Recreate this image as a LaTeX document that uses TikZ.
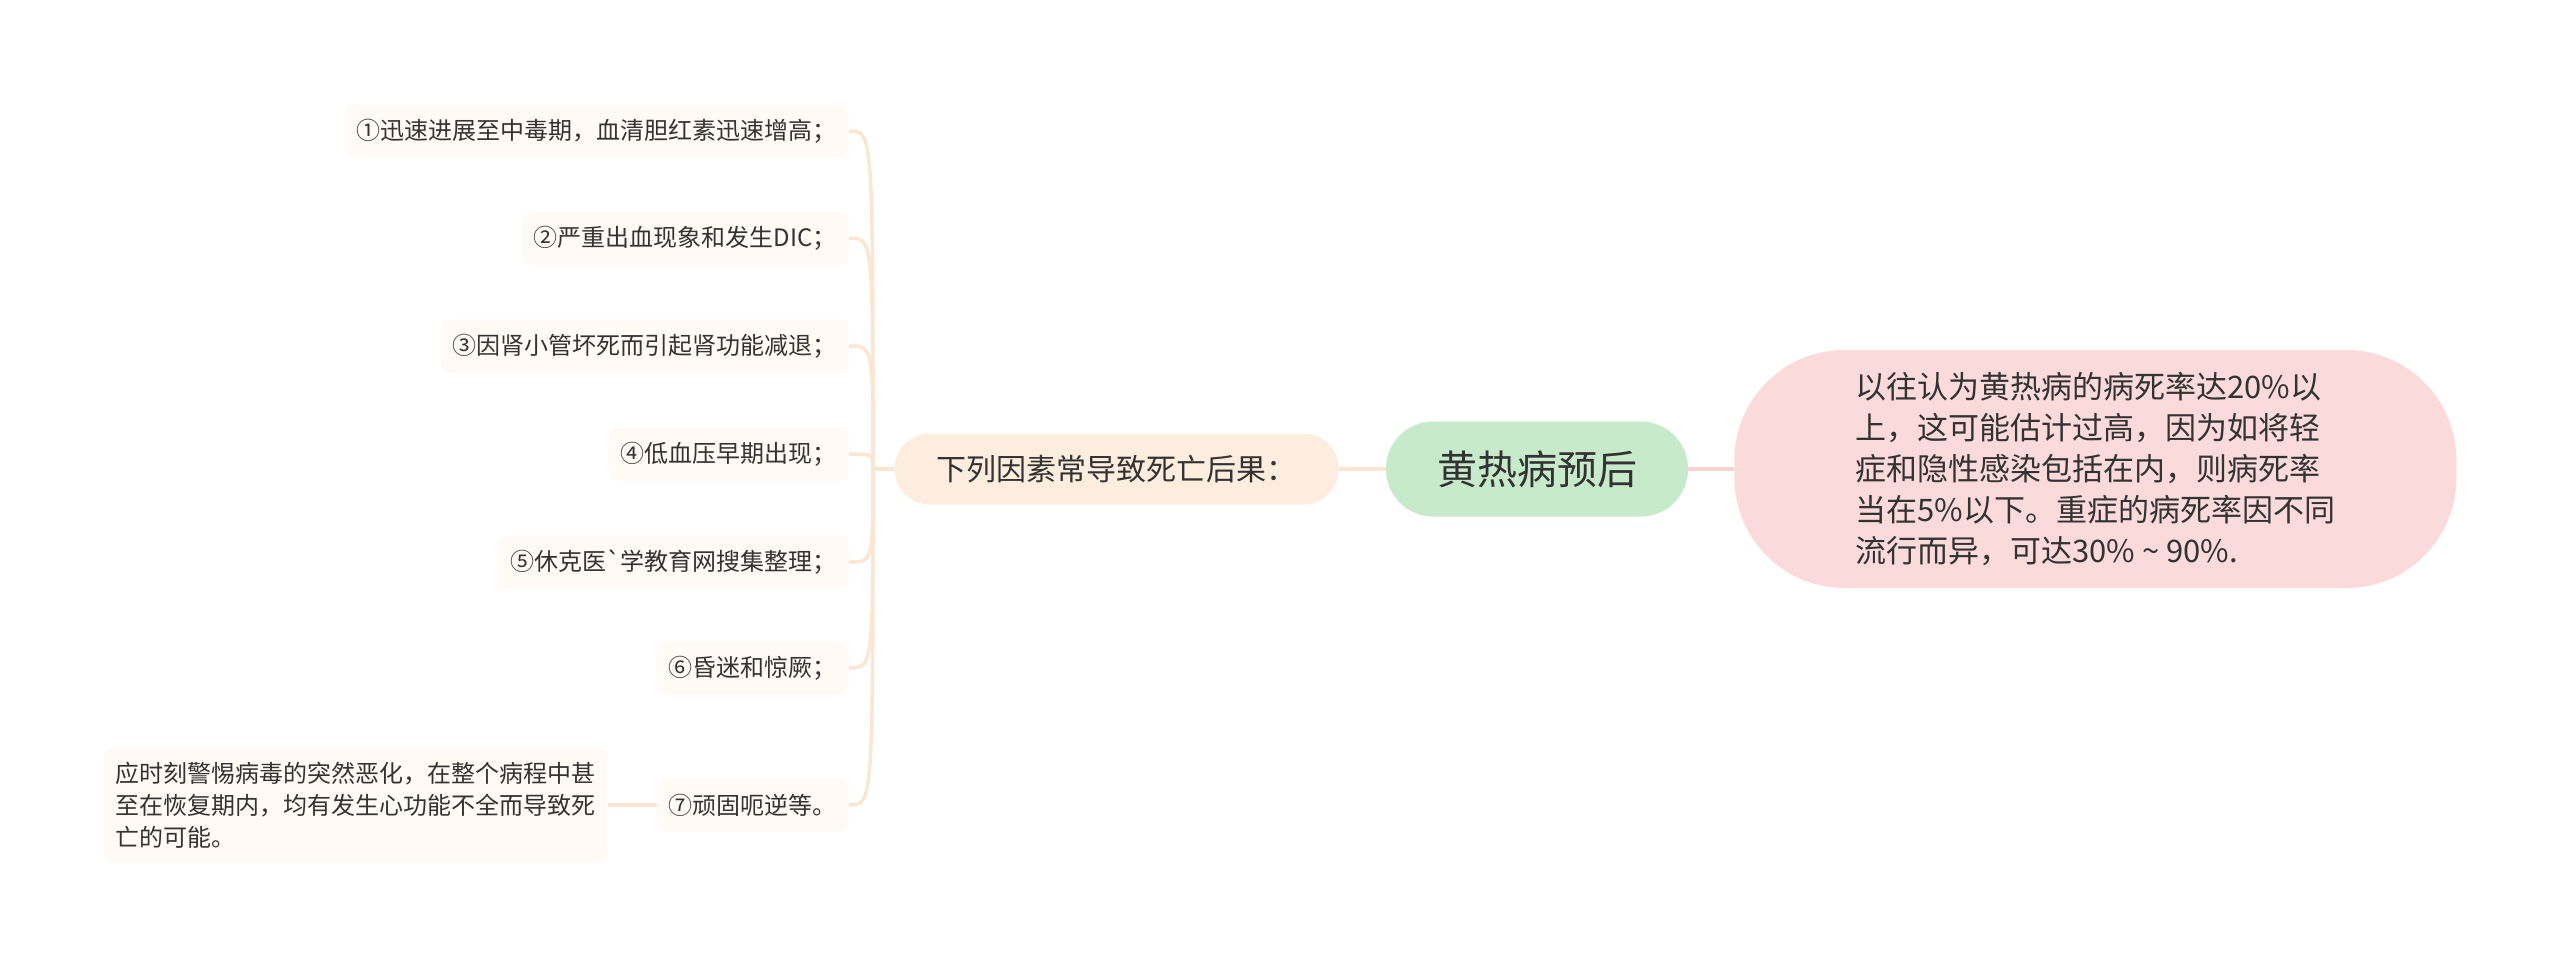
\documentclass[tikz,border=0pt]{standalone}
\usepackage{fontspec}
\setmainfont{Noto Sans CJK SC}
\usepackage{tikz}
\usetikzlibrary{positioning}
\definecolor{ink}{HTML}{333333}
\definecolor{mint}{HTML}{C7EACB}
\definecolor{peach}{HTML}{FDEDDE}
\definecolor{cream}{HTML}{FFFAF5}
\definecolor{rose}{HTML}{FADADA}
\definecolor{peachline}{HTML}{FBE6D3}
\definecolor{roseline}{HTML}{F7D3D3}

\begin{document}
\begin{tikzpicture}[x=1pt,y=-1pt,node distance=47pt]
    \tikzset{
      topic/.style={rounded corners=47pt,fill=mint,text=ink,minimum width=302pt,minimum height=95pt,font=\fontsize{40}{48}\selectfont},
      branch/.style={rounded corners=35pt,fill=peach,text=ink,minimum width=444pt,minimum height=71pt,font=\fontsize{30}{36}\selectfont},
      note/.style={rounded corners=110pt,fill=rose,text=ink,minimum width=722pt,minimum height=238pt,align=left,font=\fontsize{31}{41}\selectfont},
      leaf/.style={rounded corners=10pt,fill=cream,text=ink,minimum height=53pt,inner xsep=12pt,font=\fontsize{24}{32}\selectfont},
      peachlink/.style={draw=peachline,line width=3.5pt},
      roselink/.style={draw=roseline,line width=4pt}
    }
    \useasboundingbox (0,0) rectangle (2560,967);
    \node[topic] (root) at (1537,469) {黄热病预后};
    \node[branch,left=of root] (causes) {下列因素常导致死亡后果：};
    \node[note,right=46pt of root] (rate) {以往认为黄热病的病死率达20\%以\\上，这可能估计过高，因为如将轻\\症和隐性感染包括在内，则病死率\\当在5\%以下。重症的病死率因不同\\流行而异，可达30\%\hspace{0.22em}\textasciitilde\hspace{0.22em}90\%.};
    \node[leaf,anchor=east] (c1) at (849,131) {①迅速进展至中毒期，血清胆红素迅速增高；};
    \node[leaf,anchor=east] (c2) at (849,238) {②严重出血现象和发生DIC；};
    \node[leaf,anchor=east] (c3) at (849,346) {③因肾小管坏死而引起肾功能减退；};
    \node[leaf,anchor=east] (c4) at (849,454) {④低血压早期出现；};
    \node[leaf,anchor=east] (c5) at (849,562) {⑤休克医\textasciigrave 学教育网搜集整理；};
    \node[leaf,anchor=east] (c6) at (849,668) {⑥昏迷和惊厥；};
    \node[leaf,anchor=east] (c7) at (849,805) {⑦顽固呃逆等。};
    \node[leaf,left=49pt of c7,align=left,minimum height=114pt] (warn) {应时刻警惕病毒的突然恶化，在整个病程中甚\\至在恢复期内，均有发生心功能不全而导致死\\亡的可能。};
    \coordinate (trunk) at (873,469);
    \draw[roselink] (root) -- (rate);
    \draw[peachlink] (causes) -- (root);
    \draw[peachlink] (causes.west) -- (trunk);
    \draw[peachlink] (trunk) .. controls (trunk |- c1.east) .. (c1.east);
    \draw[peachlink] (trunk) .. controls (trunk |- c2.east) .. (c2.east);
    \draw[peachlink] (trunk) .. controls (trunk |- c3.east) .. (c3.east);
    \draw[peachlink] (trunk) .. controls (trunk |- c4.east) .. (c4.east);
    \draw[peachlink] (trunk) .. controls (trunk |- c5.east) .. (c5.east);
    \draw[peachlink] (trunk) .. controls (trunk |- c6.east) .. (c6.east);
    \draw[peachlink] (trunk) .. controls (trunk |- c7.east) .. (c7.east);
    \draw[peachlink] (c7) -- (warn);
  \end{tikzpicture}
\end{document}
